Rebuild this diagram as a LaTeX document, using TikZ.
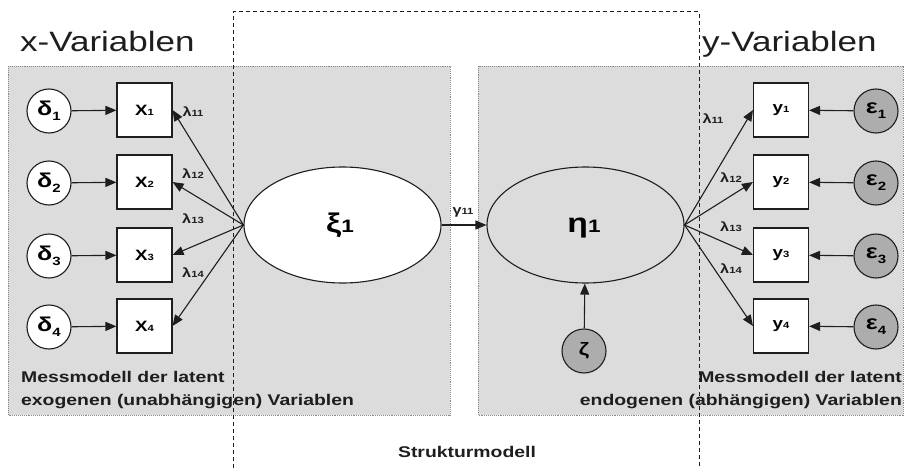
\documentclass[tikz,border=0pt]{standalone}
\usepackage{fontspec}
\setmainfont{Liberation Sans}[FakeStretch=1.25]
\usetikzlibrary{arrows.meta,shapes.geometric}

\definecolor{panel}{HTML}{DCDCDC}
\definecolor{errfill}{HTML}{ADADAD}
\definecolor{rim}{HTML}{8A8A8A}
\definecolor{ink}{HTML}{1E1E1E}

% Greek symbol with a lowered index (error terms)
\newcommand\grsub[2]{{\fontsize{20}{20}\selectfont\bfseries #1}\raisebox{-5pt}{\fontsize{12}{12}\selectfont\bfseries #2}}
% Letter with a small index on the baseline (indicators)
\newcommand\ind[2]{{\fontsize{15}{15}\selectfont\bfseries #1}{\fontsize{9}{9}\selectfont\bfseries #2}}
% Path coefficient label
\newcommand\coef[2]{{\fontsize{13}{13}\selectfont\bfseries #1}{\fontsize{9}{9}\selectfont\bfseries #2}}
% Latent variable label
\newcommand\lat[2]{{\fontsize{27}{27}\selectfont\bfseries #1}{\fontsize{18}{18}\selectfont\bfseries #2}}

\tikzset{
  panelbox/.style={fill=panel, draw=rim, densely dotted, line width=0.9pt},
  struct/.style={draw=ink, dash pattern=on 4pt off 3pt, line width=1pt},
  obs/.style={rectangle, draw=ink, fill=white, minimum width=55pt, minimum height=54pt, line width=1.1pt, inner sep=0pt},
  errw/.style={circle, draw=ink, fill=white, minimum size=44pt, inner sep=0pt, line width=1.1pt},
  errg/.style={errw, fill=errfill},
  latent/.style={ellipse, draw=ink, minimum width=197pt, minimum height=116pt, line width=1.1pt, inner sep=0pt},
  link/.style={draw=ink, line width=1.1pt, -{Triangle[length=11pt,width=9pt]}},
  coeflabel/.style={inner sep=0pt, text=ink},
  title/.style={inner sep=0pt, font=\fontsize{28}{28}\selectfont, text=ink},
  caption/.style={inner sep=0pt, font=\fontsize{15.5}{15.5}\selectfont\bfseries, text=ink},
}

\begin{document}
\begin{tikzpicture}[x=1pt,y=-1pt]
  \useasboundingbox (0,0) rectangle (907,468);

  % measurement model panels
  \path[panelbox] (8,66) rectangle (450,415);
  \path[panelbox] (478,66) rectangle (903,415);

  % structural model frame
  \coordinate (sa) at (233,468);
  \coordinate (sb) at (233,12);
  \coordinate (sc) at (699,12);
  \coordinate (sd) at (699,468);
  \draw[struct] (sa) -- (sb) -- (sc) -- (sd);

  % titles
  \node[title, anchor=base west] (tx) at (20,52) {x-Variablen};
  \node[title, anchor=base west] (ty) at (702,52) {y-Variablen};

  % exogenous side
  \foreach \i/\y in {1/110,2/182,3/255,4/326} {
    \node[errw] (d\i) at (49,\y+1) {\grsub{δ}{\i}};
    \node[obs] (x\i) at (144.5,\y) {\ind{X}{\i}};
    \draw[link] (d\i) -- (x\i);
  }
  \node[latent, fill=white] (xi) at (342.5,225) {};
  \node[inner sep=0pt] (xit) at (340,225) {\lat{ξ}{1}};
  \foreach \i in {1,...,4} \draw[link] (xi.west) -- (x\i.east);
  \node[coeflabel] (l11) at (193,112) {\coef{λ}{11}};
  \node[coeflabel] (l12) at (193,174) {\coef{λ}{12}};
  \node[coeflabel] (l13) at (193,219) {\coef{λ}{13}};
  \node[coeflabel] (l14) at (193,273) {\coef{λ}{14}};

  % endogenous side
  \node[latent, fill=panel] (eta) at (585.5,225) {};
  \node[inner sep=0pt] (etat) at (584,228) {\lat{η}{1}};
  \draw[link] (xi.east) -- (eta.west);
  \node[coeflabel] (g11) at (463,212) {\coef{γ}{11}};

  \node[errg] (zeta) at (584,351) {{\fontsize{18}{18}\selectfont\bfseries ζ}};
  \draw[link] (zeta) -- (eta);

  \foreach \i/\y in {1/110,2/182,3/255,4/326} {
    \node[obs] (y\i) at (781,\y) {\ind{y}{\i}};
    \node[errg] (e\i) at (876,\y+1) {\grsub{ε}{\i}};
    \draw[link] (e\i) -- (y\i);
    \draw[link] (eta.east) -- (y\i.west);
  }
  \node[coeflabel] (m11) at (713,119) {\coef{λ}{11}};
  \node[coeflabel] (m12) at (731,178) {\coef{λ}{12}};
  \node[coeflabel] (m13) at (731,227) {\coef{λ}{13}};
  \node[coeflabel] (m14) at (731,269) {\coef{λ}{14}};

  % captions
  \node[caption, anchor=base west] (cx1) at (21,382) {Messmodell der latent};
  \node[caption, anchor=base west] (cx2) at (21,405) {exogenen (unabhängigen) Variablen};
  \node[caption, anchor=base east] (cy1) at (902,382) {Messmodell der latent};
  \node[caption, anchor=base east] (cy2) at (902,405) {endogenen (abhängigen) Variablen};
  \node[caption, anchor=base] (cs) at (467,457) {Strukturmodell};
\end{tikzpicture}
\end{document}
